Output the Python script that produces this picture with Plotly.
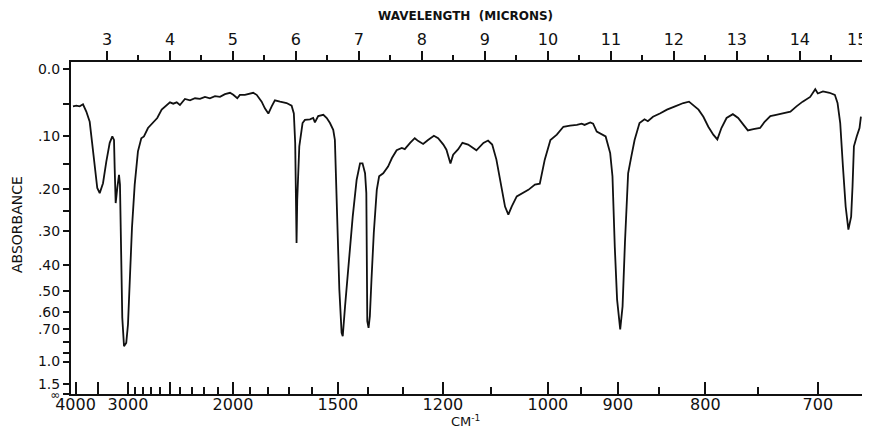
"""
IR spectrum (absorbance vs wavenumber / wavelength), replotted with Plotly
"""

import numpy as np
import plotly.graph_objects as go

# ─────────────────────────────────────────────
# Data
# ─────────────────────────────────────────────
wavenumber = [
    4065, 3980, 3896, 3818, 3743, 3669, 3621, 3565, 3514, 3467, 3405, 3346, 3286, 3242,
    3214, 3203, 3187, 3161, 3134, 3119, 3108, 3099, 3084, 3058, 3025, 3000, 2976, 2944,
    2907, 2864, 2821, 2788, 2739, 2681, 2633, 2585, 2533, 2500, 2468, 2435, 2405, 2360,
    2316, 2274, 2234, 2195, 2158, 2121, 2086, 2052, 2019, 1998, 1973, 1957, 1927, 1898,
    1879, 1860, 1833, 1816, 1798, 1781, 1765, 1740, 1709, 1686, 1676, 1670, 1667, 1664,
    1661, 1652, 1638, 1628, 1607, 1594, 1587, 1574, 1554, 1541, 1529, 1517, 1511, 1505,
    1495, 1487, 1483, 1475, 1464, 1449, 1436, 1425, 1417, 1409, 1405, 1404, 1404, 1402,
    1398, 1394, 1389, 1382, 1373, 1366, 1354, 1340, 1329, 1316, 1302, 1294, 1280, 1268,
    1259, 1247, 1235, 1221, 1211, 1199, 1192, 1183, 1177, 1166, 1157, 1145, 1128, 1114,
    1105, 1097, 1089, 1079, 1073, 1067, 1061, 1052, 1041, 1032, 1021, 1013, 1005, 996,
    986, 976, 966, 956, 949, 945, 937, 933, 928, 921, 916, 910, 907, 904, 901, 897, 894,
    891, 887, 883, 879, 873, 867, 863, 857, 849, 841, 832, 823, 817, 813, 807, 802, 797,
    792, 788, 784, 779, 773, 768, 763, 759, 754, 748, 744, 739, 734, 729, 722, 717, 712,
    706, 704, 702, 700, 696, 691, 687, 685, 683, 681, 679, 677, 675, 674, 673, 671, 669,
    668,
]
absorbance = [
    0.053, 0.052, 0.053, 0.050, 0.061, 0.077, 0.110, 0.157, 0.198, 0.209, 0.188, 0.146,
    0.112, 0.101, 0.107, 0.158, 0.231, 0.198, 0.171, 0.191, 0.266, 0.410, 0.628, 0.832,
    0.803, 0.670, 0.473, 0.291, 0.191, 0.127, 0.104, 0.101, 0.087, 0.079, 0.071, 0.058,
    0.051, 0.047, 0.049, 0.047, 0.051, 0.042, 0.044, 0.041, 0.042, 0.039, 0.041, 0.038,
    0.039, 0.035, 0.033, 0.036, 0.041, 0.036, 0.036, 0.034, 0.033, 0.036, 0.046, 0.056,
    0.064, 0.053, 0.044, 0.046,
    0.048, 0.052, 0.064, 0.112, 0.224, 0.333, 0.224, 0.118, 0.079, 0.074,
    0.073, 0.071, 0.078, 0.068, 0.066, 0.071, 0.079, 0.090, 0.107, 0.239,
    0.493, 0.725, 0.750, 0.569, 0.406, 0.263, 0.181, 0.149, 0.149, 0.168,
    0.209, 0.323, 0.569, 0.650, 0.691, 0.621, 0.453, 0.305, 0.202, 0.174,
    0.168, 0.155, 0.139, 0.125, 0.121, 0.123, 0.112, 0.104, 0.109, 0.114,
    0.107, 0.100, 0.104, 0.115, 0.124, 0.149, 0.133, 0.123, 0.112, 0.115,
    0.125, 0.112, 0.108, 0.115, 0.142, 0.195, 0.239, 0.258, 0.239, 0.216,
    0.209, 0.202, 0.191, 0.189, 0.142, 0.107, 0.098, 0.085, 0.083, 0.082,
    0.080, 0.082, 0.078, 0.080, 0.093, 0.097, 0.101, 0.130, 0.174, 0.343,
    0.537, 0.702, 0.569, 0.333, 0.168, 0.136, 0.107, 0.079, 0.073, 0.076,
    0.069, 0.064, 0.058, 0.053, 0.048, 0.046, 0.051, 0.058, 0.069, 0.085,
    0.098, 0.106, 0.087, 0.071, 0.065, 0.071, 0.082, 0.091, 0.089, 0.087,
    0.077, 0.068, 0.066, 0.064, 0.061, 0.053, 0.046, 0.039, 0.034, 0.028,
    0.034, 0.031, 0.033, 0.036, 0.048, 0.079, 0.155, 0.239, 0.296, 0.263,
    0.195, 0.118, 0.101, 0.087, 0.069,
]

# bottom axis (cm-1)
cm_labeled = [4000, 3000, 2000, 1500, 1200, 1000, 900, 800, 700]
cm_long_unlabeled = [3500, 2500]
cm_minor = [2900, 2800, 2700, 2600, 2400, 2300, 2200, 2100, 1900, 1800, 1700, 1600,
            1400, 1300, 1100, 950, 850, 750]

# top axis (microns)
micron_major = [3, 4, 5, 6, 7, 8, 9, 10, 11, 12, 13, 14, 15]
micron_minor = [3.5, 4.5, 5.5, 6.5, 7.5, 8.5, 9.5, 10.5, 11.5, 12.5, 13.5, 14.5]

# left axis (absorbance, chart is linear in transmittance)
abs_major = [0.0, 0.10, 0.20, 0.30, 0.40, 0.50, 0.60, 0.70, 1.0, 1.5]
abs_major_text = ["0.0", ".10", ".20", ".30", ".40", ".50", ".60", ".70", "1.0", "1.5"]
abs_minor = [0.05, 0.15, 0.25, 0.80, 0.90]

FONT = "DejaVu Sans"
INK = "#111111"
X_RANGE = [2.4286, 15.003]
Y_RANGE = [0.0, 1.0215]

wavelength = 10000.0 / np.array(wavenumber)
transmittance = 10.0 ** (-np.array(absorbance))

# last top label sits on the right edge: pad it so it stays in the window
micron_text = [str(v) for v in micron_major]
micron_text[-1] = micron_text[-1] + "\u2002\u2009"

fig = go.Figure()
fig.add_trace(go.Scatter(
    x=wavelength, y=transmittance, mode="lines",
    line=dict(color=INK, width=1.8),
    showlegend=False, hoverinfo="skip"
))
# invisible copies so the overlaid axes get drawn
for ax in ["x2", "x3"]:
    fig.add_trace(go.Scatter(
        x=wavelength, y=transmittance, mode="lines", xaxis=ax,
        line=dict(color="rgba(0,0,0,0)", width=0),
        showlegend=False, hoverinfo="skip"
    ))

tick_style = dict(tickwidth=1.5, tickcolor=INK)

# page body adds an 8px margin, so the figure is 16px smaller than the window
fig.update_layout(
    width=862, height=422,
    margin=dict(l=63, r=7, t=54, b=36),
    paper_bgcolor="white", plot_bgcolor="white",
    font=dict(family=FONT, size=16, color=INK),
    xaxis=dict(
        range=X_RANGE, showgrid=False, zeroline=False, automargin=False,
        showline=True, linecolor=INK, linewidth=2,
        tickmode="array",
        tickvals=[10000.0 / v for v in cm_labeled],
        ticktext=[str(v) for v in cm_labeled],
        ticks="inside", ticklen=12, ticklabelstandoff=-5, **tick_style,
        minor=dict(tickmode="array", tickvals=[10000.0 / v for v in cm_minor],
                   ticks="inside", ticklen=7, showgrid=False, **tick_style),
    ),
    xaxis2=dict(
        range=X_RANGE, overlaying="x", side="top", anchor="y", automargin=False,
        showgrid=False, zeroline=False,
        showline=True, linecolor=INK, linewidth=2,
        tickmode="array", tickvals=micron_major, ticktext=micron_text,
        ticklabeloverflow="allow",
        ticks="outside", ticklen=9, **tick_style,
        minor=dict(tickmode="array", tickvals=micron_minor,
                   ticks="outside", ticklen=5, showgrid=False, **tick_style),
    ),
    xaxis3=dict(
        range=X_RANGE, overlaying="x", side="bottom", anchor="y", automargin=False,
        showgrid=False, zeroline=False, showline=False, showticklabels=False,
        tickmode="array", tickvals=[10000.0 / v for v in cm_long_unlabeled],
        ticks="inside", ticklen=12, **tick_style,
    ),
    yaxis=dict(
        range=Y_RANGE, showgrid=False, zeroline=False, automargin=False,
        showline=True, linecolor=INK, linewidth=2, mirror="ticks",
        tickmode="array",
        tickvals=[10 ** (-a) for a in abs_major] + [0.0],
        ticktext=abs_major_text + ["<span style='font-size:12px'>∞</span>"],
        tickfont=dict(size=14),
        ticks="outside", ticklen=6, **tick_style,
        minor=dict(tickmode="array", tickvals=[10 ** (-a) for a in abs_minor],
                   ticks="outside", ticklen=6, showgrid=False, **tick_style),
    ),
)

fig.add_annotation(text="<b>WAVELENGTH  (MICRONS)</b>", xref="paper", yref="paper",
                   x=0.4975, y=1, yshift=46, xanchor="center", yanchor="middle",
                   showarrow=False, font=dict(family=FONT, size=12, color=INK))
fig.add_annotation(text="ABSORBANCE", xref="paper", yref="paper",
                   x=0, y=0.509, xshift=-54, xanchor="center", yanchor="middle",
                   textangle=-90, showarrow=False,
                   font=dict(family=FONT, size=14, color=INK))
fig.add_annotation(text="CM<sup>-1</sup>", xref="paper", yref="paper",
                   x=0.4987, y=0, yshift=-27, xanchor="center", yanchor="middle",
                   showarrow=False, font=dict(family=FONT, size=13, color=INK))

fig.write_html("out.html")
